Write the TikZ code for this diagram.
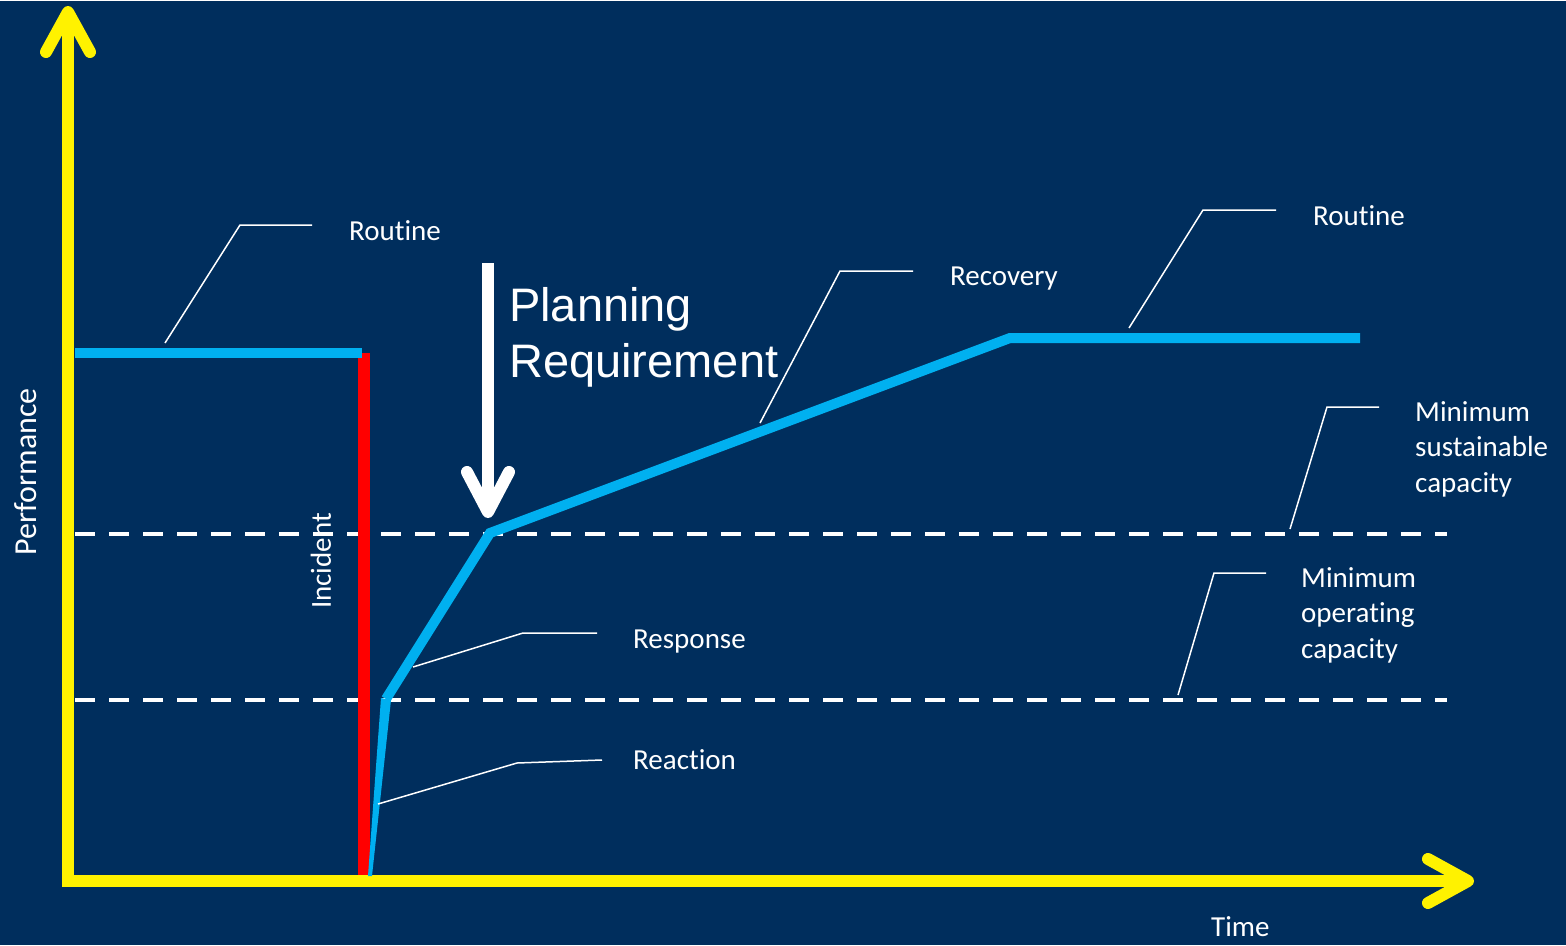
\documentclass[tikz,border=0pt]{standalone}
\usepackage{fontspec}
\setmainfont{Carlito}[Ligatures=NoCommon]
\newfontfamily\arialfont{Liberation Sans}
\usetikzlibrary{arrows.meta}
\definecolor{bg}{RGB}{0,46,93}
\definecolor{curve}{RGB}{0,176,240}
\begin{document}
\begin{tikzpicture}[x=1pt,y=-1pt,
  axis/.style={yellow,line width=12pt,-{Straight Barb[length=40pt,width=44pt,round]}},
  level/.style={white,line width=4pt,dash pattern=on 20pt off 14pt},
  perf/.style={curve,line width=10pt},
  leader/.style={white,line width=1.5pt},
  lbl/.style={white,font=\fontsize{29}{35.5}\selectfont,inner sep=0,anchor=base west,align=left}]
\fill[bg] (0,0) rectangle (1566,944);
% key points of the performance curve
\coordinate (start) at (75,352);
\coordinate (drop) at (362,352);
\coordinate (inc) at (370,875);
\coordinate (react) at (386,698);
\coordinate (resp) at (490,532);
\coordinate (rec) at (1010,337);
\coordinate (end) at (1360,337);
% capacity levels
\draw[level] (75,533) -- (1447,533);
\draw[level] (75,699) -- (1447,699);
% axes
\coordinate (origin) at (68,880);
\draw[axis] (origin) -- (68,5);
\draw[axis] (62,880) -- (1474,880);
% incident
\draw[red,line width=12pt] (364,352) -- (364,874);
\node[white,rotate=90,font=\fontsize{29}{34}\selectfont] (incident) at (321,560) {Incident};
% curve
\draw[perf] (start) -- (drop);
\fill[curve] (368,875) -- (372,875) -- (391,699) -- (381,697) -- cycle;
\draw[perf] (react) -- (resp) -- (rec) -- (end);
% planning requirement
\draw[white,line width=12pt,-{Straight Barb[length=40pt,width=42pt,round]}] (488,262) -- (488,517);
\node[white,inner sep=0,anchor=base west,align=left,font=\arialfont\fontsize{47}{56}\selectfont] (plan) at (509,376) {Planning\\Requirement};
% labels
\node[lbl] (rout1) at (349,239) {Routine};
\node[lbl] (rout2) at (1313,224) {Routine};
\node[lbl] (recov) at (950,284) {Recovery};
\node[lbl] (respl) at (633,647) {Response};
\node[lbl] (reacl) at (633,768) {Reaction};
\node[lbl] (sust) at (1415,491) {Minimum\\sustainable\\capacity};
\node[lbl] (oper) at (1301,657) {Minimum\\operating\\capacity};
\node[lbl] (time) at (1211,935) {Time};
\node[white,rotate=90,font=\fontsize{32}{36}\selectfont] (perfl) at (26,471) {Performance};
% leaders
\draw[leader] (165,342) -- (240,224) -- (312,224);
\draw[leader] (1129,327) -- (1203,209) -- (1276,209);
\draw[leader] (760,422) -- (840,270) -- (913,270);
\draw[leader] (1290,528) -- (1327,406) -- (1379,406);
\draw[leader] (1178,694) -- (1214,572) -- (1266,572);
\draw[leader] (413,666) -- (523,632) -- (597,632);
\draw[leader] (378,803) -- (517,762) -- (602,759);
\end{tikzpicture}
\end{document}
